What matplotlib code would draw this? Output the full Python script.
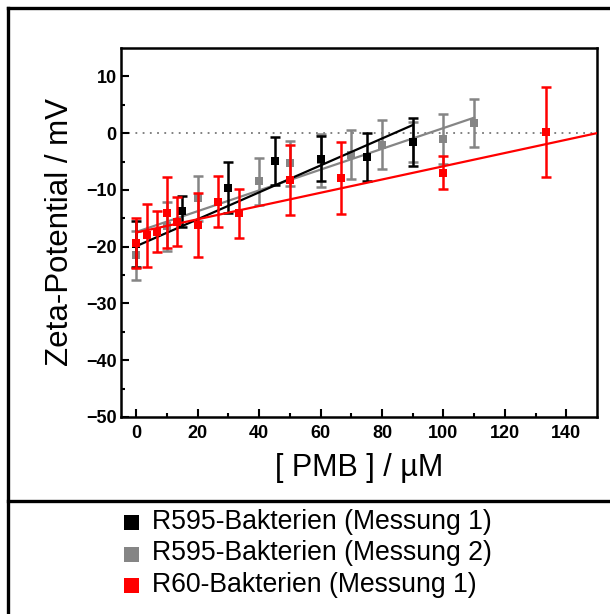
import matplotlib
matplotlib.use('Agg')
import matplotlib.pyplot as plt
import numpy as np
from matplotlib.lines import Line2D
from matplotlib.patches import Rectangle

plt.rcParams['font.family'] = ['Liberation Sans', 'DejaVu Sans']

# --- data -------------------------------------------------------------
# R595 Messung 1 (black)
x_m1 = [0, 15, 30, 45, 60, 75, 90]
y_m1 = [-19.5, -13.8, -9.6, -4.9, -4.5, -4.2, -1.6]
e_m1 = [4.0, 2.8, 4.5, 4.2, 4.0, 4.3, 4.2]

# R595 Messung 2 (gray)
x_m2 = [0, 10, 20, 40, 50, 60, 70, 80, 90, 100, 110]
y_m2 = [-21.5, -16.4, -11.5, -8.5, -5.3, -4.8, -3.8, -2.0, -1.5, -1.1, 1.8]
e_m2 = [4.3, 4.3, 4.0, 4.2, 4.0, 4.6, 4.3, 4.3, 3.5, 4.4, 4.3]

# R60 Messung 1 (red)
x_r60 = [0, 3.33, 6.67, 10, 13.33, 20, 26.67, 33.33, 50, 66.67, 100, 133.33]
y_r60 = [-19.4, -18.0, -17.4, -14.0, -15.6, -16.2, -12.1, -14.1, -8.3, -7.9, -7.0, 0.2]
e_r60 = [4.4, 5.6, 3.6, 6.3, 4.3, 5.6, 4.5, 4.3, 6.2, 6.3, 2.9, 8.0]

# linear fits: (intercept, slope, x_end)
fit_m1 = (-19.9, 0.237, 90)
fit_m2 = (-17.4, 0.183, 110)
fit_r60 = (-17.5, 0.1167, 150)

labels = ['R595-Bakterien (Messung 1)',
          'R595-Bakterien (Messung 2)',
          'R60-Bakterien (Messung 1)']

BLACK = '#000000'
GRAY = '#858585'
RED = '#ff0000'

W, H = 610, 614
fig = plt.figure(figsize=(W / 100, H / 100), dpi=100)
fig.patch.set_facecolor('white')

ax = fig.add_axes([121 / W, 1 - 417 / H, 476 / W, 369 / H])
ax.set_xlim(-5, 150)
ax.set_ylim(-50, 15)

# zero line
ax.axhline(0, color='#777777', lw=1.3, ls=(0, (1, 3)), zorder=1)


def series(x, y, e, fit, color, z):
    b, m, xe = fit
    xs = np.array([0, xe])
    ax.plot(xs, b + m * xs, color=color, lw=1.6, zorder=z)
    ax.errorbar(x, y, yerr=e, fmt='none', ecolor=color,
                elinewidth=1.8, capsize=3.5, capthick=1.8, zorder=z + 1)
    ax.plot(x, y, 's', color=color, ms=5.5, mew=0, zorder=z + 2)


series(x_m2, y_m2, e_m2, fit_m2, GRAY, 2)
series(x_m1, y_m1, e_m1, fit_m1, BLACK, 5)
series(x_r60, y_r60, e_r60, fit_r60, RED, 8)

ax.set_xticks(np.arange(0, 141, 20))
ax.set_xticks(np.arange(10, 150, 20), minor=True)
ax.set_yticks(np.arange(-50, 11, 10))
ax.set_yticks(np.arange(-45, 15, 10), minor=True)
ax.tick_params(which='both', direction='in', top=False, right=False, width=1.5)
ax.tick_params(which='major', length=5.5)
ax.tick_params(which='minor', length=3)
ax.tick_params(axis='x', pad=6)
ax.tick_params(axis='y', pad=3)
for lab in ax.get_xticklabels() + ax.get_yticklabels():
    lab.set_fontweight('bold')
    lab.set_fontsize(13)
for s in ax.spines.values():
    s.set_linewidth(1.8)

ax.set_xlabel('[ PMB ] / \u00b5M', fontsize=22, labelpad=8)
ax.set_ylabel('Zeta-Potential / mV', fontsize=22.5, labelpad=8)

# outer frame and separator
for xs, ys in [([8, 8], [8, H]), ([8, W], [8, 8]), ([8, W], [501, 501])]:
    fig.add_artist(Line2D([x / W for x in xs], [1 - y / H for y in ys],
                          color='black', lw=2.4, transform=fig.transFigure))

# legend
for i, (lab, col) in enumerate(zip(labels, [BLACK, GRAY, RED])):
    yc = 522 + i * 31.5
    fig.add_artist(Rectangle((124 / W, 1 - (yc + 8) / H), 15 / W, 15 / H,
                             facecolor=col, edgecolor='none',
                             transform=fig.transFigure))
    fig.text(152 / W, 1 - yc / H, lab, fontsize=19.2, va='center', ha='left')

fig.savefig('out.png', dpi=100, facecolor='white')
